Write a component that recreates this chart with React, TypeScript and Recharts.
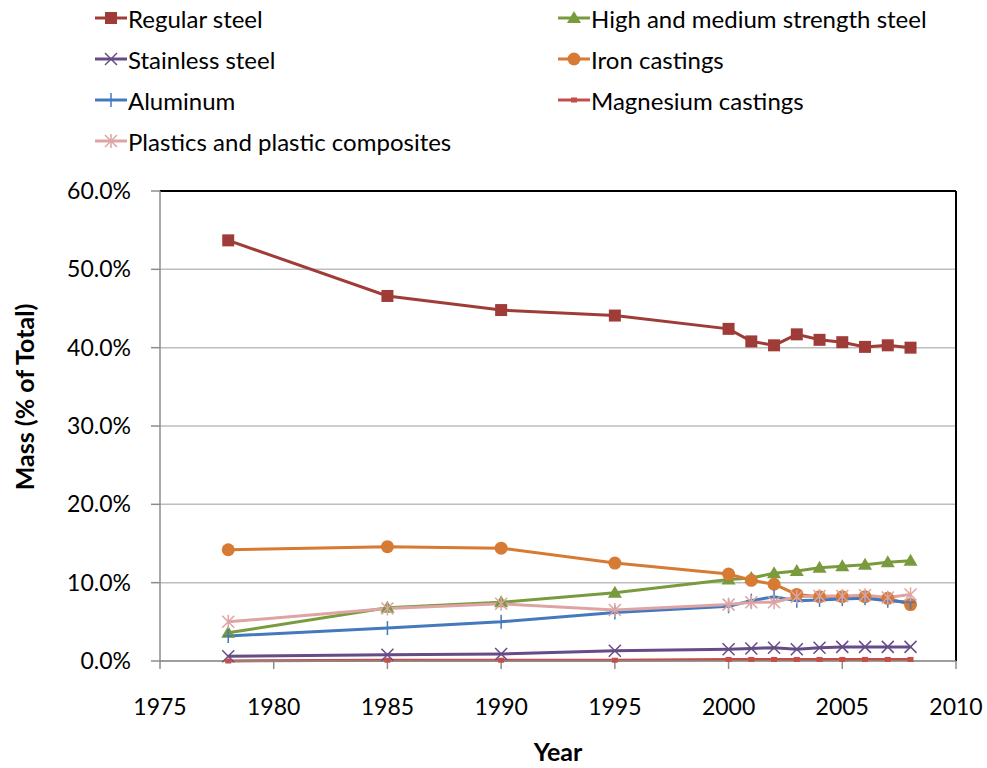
import React from "react";
import { LineChart, Line, XAxis, YAxis, CartesianGrid, ReferenceLine } from "recharts";

const years = [1978, 1985, 1990, 1995, 2000, 2001, 2002, 2003, 2004, 2005, 2006, 2007, 2008];

const regularSteel = [53.7, 46.6, 44.8, 44.1, 42.4, 40.8, 40.3, 41.7, 41.0, 40.7, 40.1, 40.3, 40.0];
const highStrength = [3.6, 6.8, 7.5, 8.7, 10.4, 10.6, 11.2, 11.5, 11.9, 12.1, 12.3, 12.6, 12.8];
const stainless = [0.6, 0.8, 0.9, 1.3, 1.5, 1.6, 1.7, 1.5, 1.7, 1.8, 1.8, 1.8, 1.8];
const ironCastings = [14.2, 14.6, 14.4, 12.5, 11.1, 10.3, 9.8, 8.5, 8.2, 8.2, 8.2, 8.0, 7.2];
const aluminum = [3.2, 4.2, 5.0, 6.2, 7.0, 7.7, 8.2, 7.7, 7.8, 7.9, 8.0, 7.7, 7.5];
const magnesium = [0.0, 0.1, 0.1, 0.1, 0.2, 0.2, 0.2, 0.2, 0.2, 0.2, 0.2, 0.2, 0.2];
const plastics = [5.0, 6.7, 7.3, 6.5, 7.2, 7.5, 7.5, 8.2, 8.3, 8.3, 8.4, 8.1, 8.5];

const xTicks = [1975, 1980, 1985, 1990, 1995, 2000, 2005, 2010];
const yTicks = [0, 10, 20, 30, 40, 50, 60];

const series = [
  { key: "regular", name: "Regular steel", values: regularSteel, color: "#A03C38", shape: "square" },
  { key: "high", name: "High and medium strength steel", values: highStrength, color: "#7A9A3E", shape: "triangle" },
  { key: "stainless", name: "Stainless steel", values: stainless, color: "#664C87", shape: "x" },
  { key: "iron", name: "Iron castings", values: ironCastings, color: "#D67A34", shape: "circle" },
  { key: "aluminum", name: "Aluminum", values: aluminum, color: "#4479BE", shape: "plus" },
  { key: "magnesium", name: "Magnesium castings", values: magnesium, color: "#C44E4A", shape: "dash" },
  { key: "plastics", name: "Plastics and plastic composites", values: plastics, color: "#DDA4A3", shape: "star" },
];

const data = years.map((year, i) => {
  const row: Record<string, number> = { year };
  series.forEach((s) => {
    row[s.key] = s.values[i];
  });
  return row;
});

const FONT = "Lato, 'Open Sans', sans-serif";

function Marker({ shape, color, cx, cy }: { shape: string; color: string; cx: number; cy: number }) {
  switch (shape) {
    case "square":
      return <rect x={cx - 6} y={cy - 6} width={12} height={12} fill={color} />;
    case "triangle":
      return <polygon points={`${cx},${cy - 7} ${cx + 7},${cy + 5} ${cx - 7},${cy + 5}`} fill={color} />;
    case "circle":
      return <circle cx={cx} cy={cy} r={6.5} fill={color} />;
    case "x":
      return (
        <g stroke={color} strokeWidth={1.5}>
          <line x1={cx - 6} y1={cy - 6} x2={cx + 6} y2={cy + 6} />
          <line x1={cx - 6} y1={cy + 6} x2={cx + 6} y2={cy - 6} />
        </g>
      );
    case "plus":
      return (
        <g stroke={color} strokeWidth={1.5}>
          <line x1={cx} y1={cy - 7} x2={cx} y2={cy + 7} />
          <line x1={cx - 5} y1={cy} x2={cx + 5} y2={cy} />
        </g>
      );
    case "dash":
      return <rect x={cx - 3} y={cy - 2.5} width={6} height={5} fill={color} />;
    case "star":
      return (
        <g stroke={color} strokeWidth={1.5}>
          <line x1={cx - 6} y1={cy - 6} x2={cx + 6} y2={cy + 6} />
          <line x1={cx - 6} y1={cy + 6} x2={cx + 6} y2={cy - 6} />
          <line x1={cx} y1={cy - 7} x2={cx} y2={cy + 7} />
        </g>
      );
    default:
      return null;
  }
}

function makeDot(shape: string, color: string) {
  return (props: any) => {
    const { cx, cy, index } = props;
    if (cx == null || cy == null) return <g key={index} />;
    return (
      <g key={index}>
        <Marker shape={shape} color={color} cx={cx} cy={cy} />
      </g>
    );
  };
}

function LegendBox() {
  const cols = [
    series.filter((_, i) => i % 2 === 0),
    series.filter((_, i) => i % 2 === 1),
  ];
  const left = [95, 558];
  return (
    <div
      style={{
        position: "absolute",
        left: 0,
        top: 0,
        width: 987,
        height: 165,
        fontFamily: FONT,
        fontSize: 24,
        color: "#000",
      }}
    >
      {cols.map((col, c) =>
        col.map((s, r) => (
          <div
            key={s.key}
            style={{
              position: "absolute",
              left: left[c],
              top: 18 + r * 41 - 15,
              height: 30,
              display: "flex",
              alignItems: "center",
            }}
          >
            <svg width={32} height={20} style={{ marginRight: 1 }}>
              <line x1={0} y1={10} x2={32} y2={10} stroke={s.color} strokeWidth={3} />
              <Marker shape={s.shape} color={s.color} cx={16} cy={10} />
            </svg>
            <span style={{ whiteSpace: "nowrap" }}>{s.name}</span>
          </div>
        ))
      )}
    </div>
  );
}

export default function App() {
  return (
    <div style={{ position: "absolute", left: 0, top: 0, width: 987, height: 768, background: "#fff" }}>
      <LineChart
        width={987}
        height={768}
        data={data}
        margin={{ top: 191, right: 31, left: 60, bottom: 62 }}
        style={{ fontFamily: FONT }}
      >
        <CartesianGrid horizontal vertical={false} stroke="#BDBDBD" strokeWidth={1.5} />
        <XAxis
          dataKey="year"
          type="number"
          domain={[1975, 2010]}
          ticks={xTicks}
          interval={0}
          tickSize={8}
          tickMargin={30}
          height={45}
          axisLine={{ stroke: "#8C8C8C", strokeWidth: 1.5 }}
          tickLine={{ stroke: "#8C8C8C", strokeWidth: 1.5 }}
          tick={{ fill: "#000", fontSize: 23, fontFamily: FONT }}
          label={{
            content: () => (
              <text x={558} y={761} textAnchor="middle" fontSize={25} fontWeight="bold" fontFamily={FONT} fill="#000">
                Year
              </text>
            ),
          }}
        />
        <YAxis
          domain={[0, 60]}
          ticks={yTicks}
          interval={0}
          width={100}
          tickSize={9}
          tickMargin={20}
          axisLine={{ stroke: "#8C8C8C", strokeWidth: 1.5 }}
          tickLine={{ stroke: "#8C8C8C", strokeWidth: 1.5 }}
          tick={{ fill: "#000", fontSize: 23, fontFamily: FONT }}
          tickFormatter={(v: number) => `${v.toFixed(1)}%`}
          label={{
            content: () => (
              <text
                x={34}
                y={397}
                textAnchor="middle"
                fontSize={25}
                fontWeight="bold"
                fontFamily={FONT}
                fill="#000"
                transform="rotate(-90 34 397)"
              >
                Mass (% of Total)
              </text>
            ),
          }}
        />
        <ReferenceLine y={60} stroke="#000" strokeWidth={2} />
        <ReferenceLine x={2010} stroke="#000" strokeWidth={2} />
        {series.map((s) => (
          <Line
            key={s.key}
            dataKey={s.key}
            name={s.name}
            type="linear"
            stroke={s.color}
            strokeWidth={3}
            dot={makeDot(s.shape, s.color)}
            activeDot={false}
            isAnimationActive={false}
          />
        ))}
      </LineChart>
      <LegendBox />
    </div>
  );
}
